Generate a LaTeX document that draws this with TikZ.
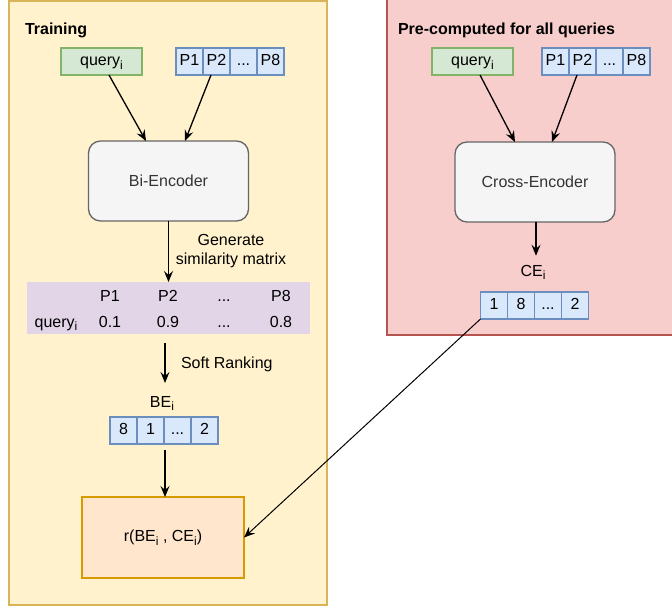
\documentclass[tikz,border=0pt]{standalone}
\usepackage{fontspec}
\setmainfont{Liberation Sans}
\usetikzlibrary{arrows.meta,calc}

\definecolor{yfill}{HTML}{FFF2CC}\definecolor{yline}{HTML}{D6B656}
\definecolor{rfill}{HTML}{F8CECC}\definecolor{rline}{HTML}{B85450}
\definecolor{gfill}{HTML}{D5E8D4}\definecolor{gline}{HTML}{82B366}
\definecolor{bfill}{HTML}{DAE8FC}\definecolor{bline}{HTML}{6C8EBF}
\definecolor{efill}{HTML}{F5F5F5}\definecolor{eline}{HTML}{666666}\definecolor{etext}{HTML}{333333}
\definecolor{pfill}{HTML}{E1D5E7}
\definecolor{ofill}{HTML}{FFE6CC}\definecolor{oline}{HTML}{D79B00}

% subscript sized for 16pt body text
\newcommand{\sub}[1]{\raisebox{-3.5pt}{\fontsize{12}{12}\selectfont #1}}

\tikzset{
  txt/.style={font=\fontsize{16}{20}\selectfont, inner sep=0pt, outer sep=0pt},
  celltxt/.style={txt, text height=11.5pt, text depth=3pt},
  group/.style={draw=#1, line width=1.3pt, inner sep=0pt, outer sep=0pt},
  querybox/.style={celltxt, draw=gline, fill=gfill, line width=1.3pt, minimum width=81pt, minimum height=27pt},
  cell/.style={celltxt, draw=bline, fill=bfill, line width=1.3pt, minimum width=27pt, minimum height=27pt},
  encoder/.style={txt, draw=eline, fill=efill, text=etext, line width=1.3pt, rounded corners=12pt,
                  minimum width=160pt, minimum height=80pt},
  arr/.style={-{Stealth[length=11pt,width=9pt,inset=4pt]}, line width=1.3pt},
  thinarr/.style={-{Stealth[length=11pt,width=9pt,inset=4pt]}, line width=1pt},
}

\begin{document}
\begin{tikzpicture}[x=1pt,y=-1pt]
\useasboundingbox (0,0) rectangle (672,608);

% group backgrounds
\node[group=yline, fill=yfill, minimum width=318pt, minimum height=604pt] (train) at (168,303) {};
\begin{scope}
\clip (0,0) rectangle (672,608);
\node[group=rline, fill=rfill, minimum width=304pt, minimum height=338pt] (pre) at (539,166) {};
\end{scope}

\node[txt, font=\fontsize{16}{20}\selectfont\bfseries, anchor=west] (trainlbl) at (25,30) {Training};
\node[txt, font=\fontsize{16}{20}\selectfont\bfseries, anchor=west] (prelbl) at (398,30) {Pre-computed for all queries};

% ---- training side ----
\node[querybox] (tq) at (101.5,61.5) {query\sub{i}};
\node[cell] (tp1) at (189.5,61.5) {P1};
\node[cell] (tp2) at (216.5,61.5) {P2};
\node[cell] (tp3) at (243.5,61.5) {...};
\node[cell] (tp4) at (270.5,61.5) {P8};

\node[encoder] (bi) at (168.5,181) {Bi-Encoder};

\draw[arr] ([xshift=7.5pt]tq.south) -- ([xshift=-22.5pt]bi.north);
\draw[arr] ([xshift=-5.5pt]tp2.south) -- ([xshift=16.5pt]bi.north);

% similarity matrix
\node[txt, fill=pfill, minimum width=283pt, minimum height=52pt] (mat) at (168.5,308) {};
\node[celltxt] (mh1) at (110,297) {P1};
\node[celltxt] (mh2) at (168,297) {P2};
\node[celltxt] (mh3) at (224,297) {...};
\node[celltxt] (mh4) at (281,297) {P8};
\node[celltxt] (mq)  at (56,323) {query\sub{i}};
\node[celltxt] (mv1) at (110,323) {0.1};
\node[celltxt] (mv2) at (168,323) {0.9};
\node[celltxt] (mv3) at (224,323) {...};
\node[celltxt] (mv4) at (281,323) {0.8};

\draw[arr] (bi.south) -- (bi.south |- mat.north);
\node[txt, align=center] (genlbl) at (231,251) {Generate\\[-1pt]similarity matrix};

% ranking
\node[celltxt] (bel) at (162,403) {BE\sub{i}};
\coordinate (rankend) at (165,383);
\draw[arr, shorten <=9pt] (mat.south -| rankend) -- (rankend);
\node[txt, anchor=west] (ranklbl) at (181,364) {Soft Ranking};

\node[cell] (be1) at (123.5,430.5) {8};
\node[cell] (be2) at (150.5,430.5) {1};
\node[cell] (be3) at (177.5,430.5) {...};
\node[cell] (be4) at (204.5,430.5) {2};

\node[celltxt, draw=oline, fill=ofill, line width=1.3pt, minimum width=162pt, minimum height=81pt]
  (r) at (163,537.5) {r(BE\sub{i} , CE\sub{i})};

\draw[arr, shorten <=6pt] ([xshift=1pt]be2.south east) -- ([xshift=1pt]be2.south east |- r.north);

% ---- pre-computed side ----
\node[querybox] (cq) at (472.5,61.5) {query\sub{i}};
\node[cell] (cp1) at (555.5,61.5) {P1};
\node[cell] (cp2) at (582.5,61.5) {P2};
\node[cell] (cp3) at (609.5,61.5) {...};
\node[cell] (cp4) at (636.5,61.5) {P8};

\node[encoder] (cross) at (535,182) {Cross-Encoder};

\draw[arr] ([xshift=7.5pt]cq.south) -- ([xshift=-20pt]cross.north);
\draw[arr] ([xshift=-5.5pt]cp2.south) -- ([xshift=17pt]cross.north);

\node[celltxt] (cel) at (533,272) {CE\sub{i}};
\draw[arr, shorten >=9pt] ([xshift=1pt]cross.south) -- ([xshift=1pt]cross.south |- cel.north);

\node[cell] (ce1) at (494,305.5) {1};
\node[cell] (ce2) at (521,305.5) {8};
\node[cell] (ce3) at (548,305.5) {...};
\node[cell] (ce4) at (575,305.5) {2};

\draw[thinarr] (ce1.south west) -- (r.east);
\end{tikzpicture}
\end{document}
